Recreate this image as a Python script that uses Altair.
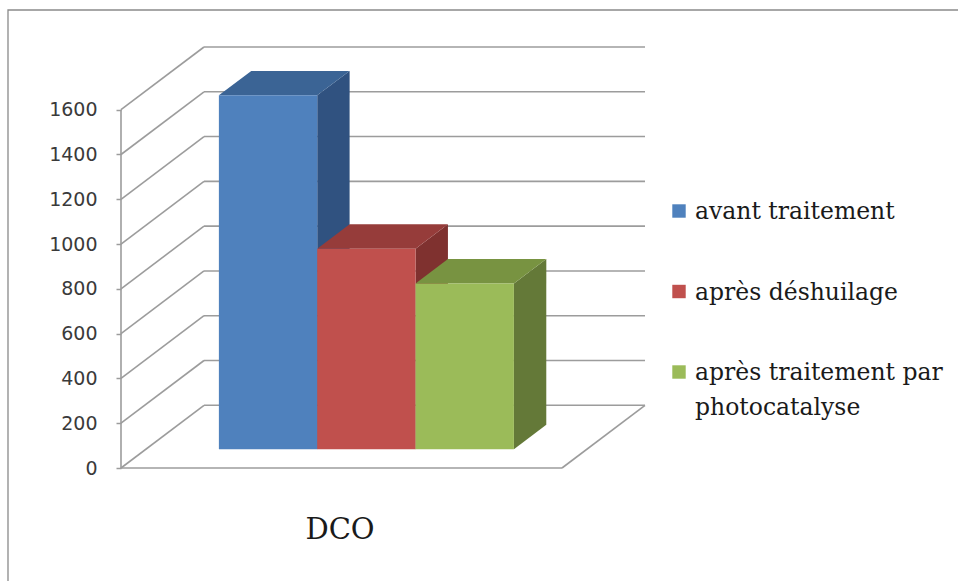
import altair as alt
import pandas as pd

# ---- chart data -----------------------------------------------------------
CATEGORIES = ["\u00a0avant traitement", "après déshuilage", "après traitement par\nphotocatalyse"]
DCO_VALUES = [1580, 895, 740]
TICKS = [0, 200, 400, 600, 800, 1000, 1200, 1400, 1600]
GROUP_LABEL = "DCO"

# ---- styling --------------------------------------------------------------
FRONT = ["#4F81BD", "#C0504D", "#9BBB59"]
TOP = ["#3B6495", "#963C3A", "#789341"]
SIDE = ["#305280", "#7F312F", "#647938"]
LINE = "#9c9c9c"

# oblique 3-D projection: x is a fraction of the floor width, y is in value units
DEPTH_X = 83 / 441          # horizontal shift of the back wall
DEPTH_Y = 280               # vertical shift of the back wall
GAP = 0.1655                # free space left/right of the bar group
BAR_W = (1 - 2 * GAP) / len(DCO_VALUES)
D0, D1 = 0.3, 0.69          # depth span of the bars
Y_MAX = TICKS[-1]

# ---- walls, floor and axis line ------------------------------------------
segs = []
for t in TICKS:
    segs.append(dict(x=0, y=t, x2=DEPTH_X, y2=t + DEPTH_Y))
    segs.append(dict(x=DEPTH_X, y=t + DEPTH_Y, x2=1 + DEPTH_X, y2=t + DEPTH_Y))
segs.append(dict(x=0, y=0, x2=1, y2=0))
segs.append(dict(x=1, y=0, x2=1 + DEPTH_X, y2=DEPTH_Y))
segs.append(dict(x=0, y=0, x2=0, y2=Y_MAX))
grid_df = pd.DataFrame(segs)

# ---- bar faces -------------------------------------------------------------
fronts, tops, sides = [], [], []
for i, v in enumerate(DCO_VALUES):
    x0 = GAP + i * BAR_W
    x1 = x0 + BAR_W
    fronts.append(dict(x=x0 + D0 * DEPTH_X, x2=x1 + D0 * DEPTH_X,
                       y=D0 * DEPTH_Y, y2=v + D0 * DEPTH_Y, fill=FRONT[i]))
    for d in (D0, D1):
        tops.append(dict(bar=i, y=v + d * DEPTH_Y, x=x0 + d * DEPTH_X,
                         x2=x1 + d * DEPTH_X, fill=TOP[i]))
        sides.append(dict(bar=i, x=x1 + d * DEPTH_X, y=d * DEPTH_Y,
                          y2=v + d * DEPTH_Y, fill=SIDE[i]))
front_df = pd.DataFrame(fronts)
top_df = pd.DataFrame(tops)
side_df = pd.DataFrame(sides)

legend_df = pd.DataFrame({"label": CATEGORIES, "row": list(range(len(CATEGORIES))),
                          "fill": FRONT})

x_scale = alt.Scale(domain=[0, 1 + DEPTH_X], nice=False, zero=False)
y_scale = alt.Scale(domain=[0, Y_MAX + DEPTH_Y], nice=False, zero=False)

y_axis = alt.Axis(values=TICKS, format="d", title=None, domain=False, grid=False,
                  tickSize=5, tickColor=LINE, tickWidth=1.5,
                  labelFont="DejaVu Sans", labelFontSize=19,
                  labelColor="#3a3a3a", labelPadding=19)


def ypos(field="y:Q"):
    return alt.Y(field, scale=y_scale, axis=y_axis)


def xpos(field="x:Q"):
    return alt.X(field, scale=x_scale, axis=None)


grid = alt.Chart(grid_df).mark_rule(color=LINE, strokeWidth=1.6).encode(
    x=xpos(), y=ypos(), x2="x2:Q", y2="y2:Q",
)

side = alt.Chart(side_df).mark_area(orient="vertical").encode(
    x=xpos(), y=ypos(), y2="y2:Q",
    detail="bar:N",
    color=alt.Color("fill:N", scale=None),
)

top = alt.Chart(top_df).mark_area(orient="horizontal").encode(
    y=ypos(), x=xpos(), x2="x2:Q",
    detail="bar:N",
    color=alt.Color("fill:N", scale=None),
)

front = alt.Chart(front_df).mark_rect().encode(
    x=xpos(), x2="x2:Q", y=ypos(), y2="y2:Q",
    color=alt.Color("fill:N", scale=None),
)

group_label = alt.Chart(pd.DataFrame({"label": [GROUP_LABEL]})).mark_text(
    font="DejaVu Serif", fontSize=29, color="#1a1a1a", align="center", baseline="middle"
).encode(x=alt.value(219), y=alt.value(483), text="label:N")

frame = alt.Chart(pd.DataFrame({"k": [0]})).mark_rect(
    filled=False, stroke="#8a8a8a", strokeWidth=1.3
).encode(x=alt.value(-113), x2=alt.value(850), y=alt.value(-37), y2=alt.value(560))

plot = alt.layer(grid, side, top, front, group_label, frame)

row_scale = alt.Scale(domain=[0, 2], range=[164, 325], nice=False, zero=False)
leg_sq = alt.Chart(legend_df).mark_square(size=180, opacity=1).encode(
    x=alt.value(558),
    y=alt.Y("row:Q", scale=row_scale, axis=None),
    color=alt.Color("fill:N", scale=None),
)
leg_txt = alt.Chart(legend_df).mark_text(
    font="DejaVu Serif", fontSize=23.5, color="#1a1a1a", align="left",
    baseline="alphabetic", lineBreak="\n", lineHeight=35, dy=8
).encode(
    x=alt.value(574),
    y=alt.Y("row:Q", scale=row_scale, axis=None),
    text="label:N",
)
legend = alt.layer(leg_sq, leg_txt)

chart = alt.layer(plot, legend).resolve_scale(y="independent").properties(
    width=524, height=421,
    padding={"left": 121, "top": 47, "right": 313, "bottom": 113},
    autosize=alt.AutoSizeParams(type="none"),
    background="white",
).configure_view(stroke=None)

chart.save("out.html", embed_options={"renderer": "svg", "actions": False})
